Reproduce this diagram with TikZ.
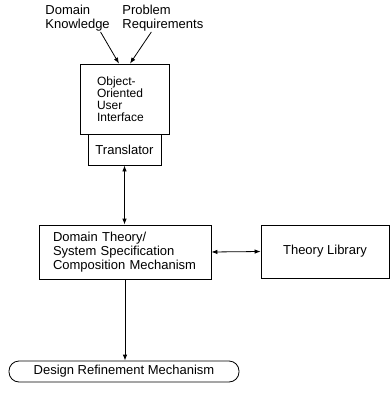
\documentclass[tikz,border=0pt]{standalone}
\usepackage{fontspec}
\setmainfont{Liberation Sans}
\usetikzlibrary{arrows.meta}

\begin{document}
\begin{tikzpicture}[x=1pt,y=-1pt,line width=0.8pt,>={Latex[length=6pt,width=4.5pt]},
  box/.style={draw,rectangle,inner sep=0pt},
  lbl/.style={inner sep=0pt,align=left,anchor=west}]
\useasboundingbox (0,0) rectangle (390,394);
\fontsize{13}{14}\selectfont

\node [lbl] (know) at (45,18.5) {Domain\\Knowledge};
\node [lbl] (req) at (122,18.5) {Problem\\Requirements};

\node [box,minimum width=89pt,minimum height=70pt,text width=55pt,align=left,font=\fontsize{12}{12}\selectfont] (ooui) at (124.5,99) {Object-\\Oriented\\User\\Interface};
\node [box,minimum width=73pt,minimum height=31pt] (trans) at (124.5,149.5) {Translator};

\node [box,minimum width=172pt,minimum height=54pt,text width=144pt,align=left] (dom) at (125,252) {Domain Theory/\\System Specification\\Composition Mechanism};
\node [box,minimum width=128pt,minimum height=53pt] (lib) at (325,251.5) {Theory Library};

\node [box,rounded corners=10pt,minimum width=230pt,minimum height=21pt] (refine) at (124,371.5) {Design Refinement Mechanism};

\draw[->] ([xshift=23pt]know.south) to ([xshift=-5.5pt]ooui.north);
\draw[->] ([xshift=-11.5pt]req.south) to ([xshift=5.5pt]ooui.north);

\draw[<->] (trans.south) to (trans.south |- dom.north);
\draw[<->] (dom.east) to (lib.west);
\draw[->] (dom.south) to (dom.south |- refine.north);

\end{tikzpicture}
\end{document}
